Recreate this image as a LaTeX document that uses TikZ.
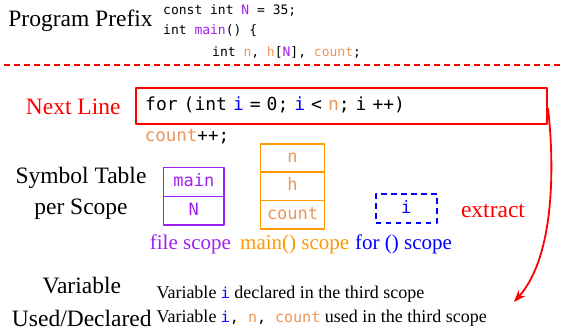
\documentclass[tikz,border=0pt]{standalone}
\usepackage{fontspec}
\setmainfont{Liberation Serif}
\setmonofont{DejaVu Sans Mono}
\usetikzlibrary{positioning,arrows.meta}

\definecolor{fileviolet}{RGB}{160,32,240}
\definecolor{mainorange}{RGB}{255,153,0}
\definecolor{vartan}{RGB}{235,150,90}
\definecolor{forblue}{RGB}{0,0,255}

\newcommand{\fv}[1]{\textcolor{fileviolet}{#1}}
\newcommand{\mv}[1]{\textcolor{vartan}{#1}}
\newcommand{\bv}[1]{\textcolor{forblue}{#1}}

\begin{document}
\begin{tikzpicture}[
        x = 1pt, y = -1pt,
        line join=round,
        biglabel/.style = {font=\fontsize{23.5}{31}\selectfont, align=center, inner sep=0},
        prefixcode/.style = {font=\fontsize{13}{15}\ttfamily, anchor=base west, inner sep=0},
        cell/.style = {draw, line width=1.6pt, inner sep=0, outer sep=0,
            text height=12pt, text depth=3pt, font=\fontsize{17}{20}\ttfamily},
        scopelabel/.style = {font=\fontsize{21}{24}\selectfont, inner sep=0},
        usageline/.style = {font=\fontsize{18}{22}\selectfont, anchor=base west, inner sep=0}
    ]

    \useasboundingbox (0, 0) rectangle (574, 331);

    % program prefix
    \node[biglabel] (prefixlabel) at (80.5, 21) {Program Prefix};
    \node[prefixcode] (pre1) at (163, 14.5) {const int \fv{N} = 35;};
    \node[prefixcode] (pre2) at (163, 35) {int \fv{main}() \{};
    \node[prefixcode] (pre3) at (212, 57) {int \mv{n}, \mv{h}[\fv{N}], \mv{count};};

    % cut between prefix and next line
    \foreach \k in {0, 1, ..., 55} {
        \draw[red, line width=2pt] (4 + 10*\k, 65) --++ (6, 0);
    }

    % next line
    \node[biglabel, red] (nextlabel) at (73.2, 107) {Next Line};
    \node[draw=red, line width=1.6pt, anchor=west, inner xsep=9pt, inner ysep=0,
        text width=393pt, minimum height=36pt, align=left,
        text height=13pt, text depth=4pt, font=\fontsize{18}{20}\ttfamily]
        (forline) at (135.4, 106.3) {for (int \bv{i} = 0; \bv{i} < \mv{n}; i ++)};
    \node[font=\fontsize{17.5}{20}\ttfamily, anchor=base west, inner sep=0]
        (countline) at (144.6, 141.4) {\mv{count}++;};

    % symbol tables
    \node[biglabel] (tablelabel) at (81, 193) {Symbol Table\\per Scope};

    \node[cell, fileviolet, minimum width=60.4pt, minimum height=29.2pt] (fmain) at (193.8, 182.1) {main};
    \node[cell, fileviolet, minimum width=60.4pt, minimum height=28.6pt, below=0pt of fmain] (fN) {N};

    \node[cell, mainorange, text=vartan, minimum width=64pt, minimum height=28.5pt] (mn) at (292.6, 158) {n};
    \node[cell, mainorange, text=vartan, minimum width=64pt, minimum height=28.4pt, below=0pt of mn] (mh) {h};
    \node[cell, mainorange, text=vartan, minimum width=64pt, minimum height=28.5pt, below=0pt of mh] (mcount) {count};

    \node[cell, forblue, dash pattern=on 5.5pt off 4.5pt, minimum width=60.8pt, minimum height=29pt] (fi) at (406.3, 208.6) {i};

    \node[biglabel, red] (extract) at (493, 211) {extract};

    \node[scopelabel, fileviolet] (filescope) at (190.4, 244) {file scope};
    \node[scopelabel, mainorange] (mainscope) at (294.7, 244) {main() scope};
    \node[scopelabel, forblue] (forscope) at (403.6, 244) {for () scope};

    % variables used / declared
    \node[biglabel, font=\fontsize{23.5}{33}\selectfont] (varlabel) at (81.8, 302) {Variable\\Used/Declared};
    \node[usageline] (declared) at (156.3, 299) {Variable {\fontsize{15}{18}\ttfamily\bv{i}} declared in the third scope};
    \node[usageline] (used) at (156.3, 322.7) {Variable {\fontsize{15}{18}\ttfamily\bv{i}, \mv{n}, \mv{count}} used in the third scope};

    \coordinate (arrowend) at (514, 302);
    \draw[red, line width=1.8pt, -{Stealth[length=12pt, width=9pt]}]
        ([yshift=-2pt]forline.east) .. controls (554, 160) and (556, 255) .. (arrowend);

\end{tikzpicture}
\end{document}
